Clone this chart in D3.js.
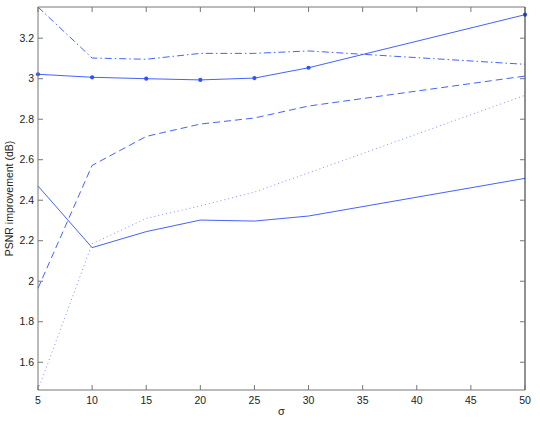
<!DOCTYPE html>
<html><head><meta charset="utf-8">
<script src="https://cdn.jsdelivr.net/npm/d3@7"></script>
<style>body{margin:0;background:#fff}svg{display:block}text{font-family:"Liberation Sans",Arial,sans-serif}</style>
</head><body><svg id="c" width="540" height="423"></svg>
<script>
const sigma = [5, 10, 15, 20, 25, 30, 50];
const solidMarked = [3.022, 3.007, 3.000, 2.994, 3.003, 3.054, 3.316];
const dashDot = [3.354, 3.102, 3.096, 3.125, 3.125, 3.137, 3.071];
const dashed = [1.965, 2.572, 2.715, 2.776, 2.806, 2.865, 3.013];
const dotted = [1.463, 2.185, 2.31, 2.372, 2.44, 2.535, 2.918];
const solidLower = [2.470, 2.166, 2.245, 2.302, 2.297, 2.322, 2.508];
const xTicks = [5, 10, 15, 20, 25, 30, 35, 40, 45, 50];
const yTicks = [1.6, 1.8, 2, 2.2, 2.4, 2.6, 2.8, 3, 3.2];

const L = 38, R = 525, T = 7, B = 390;
const svg = d3.select("#c");
const x = d3.scaleLinear().domain([5, 50]).range([L, R]);
const y = d3.scaleLinear().domain([1.463, 3.354]).range([B, T]);
const col = "#3050ff";

const series = [
  {v: solidMarked, dash: null, marks: true},
  {v: dashDot, dash: "7,3,1.5,3"},
  {v: dashed, dash: "7,4"},
  {v: dotted, dash: "1,3", op: 0.7},
  {v: solidLower, dash: null}
];
const line = d3.line().x((d, i) => x(sigma[i])).y(d => y(d));
const g = svg.append("g");
series.forEach(s => {
  g.append("path").attr("d", line(s.v)).attr("fill", "none")
    .attr("stroke", col).attr("stroke-width", 0.9)
    .attr("stroke-opacity", s.op || 1)
    .attr("stroke-dasharray", s.dash);
  if (s.marks) {
    g.selectAll(null).data(s.v).enter().append("circle")
      .attr("cx", (d, i) => x(sigma[i])).attr("cy", d => y(d)).attr("r", 2.1).attr("fill", col);
  }
});

const tk = 5, axc = "#777";
svg.append("line").attr("x1", L).attr("x2", R).attr("y1", T).attr("y2", T).attr("stroke", axc);
svg.append("line").attr("x1", L).attr("x2", R).attr("y1", B).attr("y2", B).attr("stroke", axc);
svg.append("line").attr("x1", L).attr("x2", L).attr("y1", T).attr("y2", B).attr("stroke", axc);
svg.append("line").attr("x1", R).attr("x2", R).attr("y1", T).attr("y2", B).attr("stroke", "#222");

xTicks.forEach(t => {
  svg.append("line").attr("x1", x(t)).attr("x2", x(t)).attr("y1", B).attr("y2", B - tk).attr("stroke", axc);
  svg.append("line").attr("x1", x(t)).attr("x2", x(t)).attr("y1", T).attr("y2", T + tk).attr("stroke", axc);
  svg.append("text").attr("x", x(t)).attr("y", B + 14).attr("text-anchor", "middle")
    .attr("font-size", 10.5).attr("fill", "#222").text(t);
});
yTicks.forEach(t => {
  svg.append("line").attr("x1", L).attr("x2", L + tk).attr("y1", y(t)).attr("y2", y(t)).attr("stroke", axc);
  svg.append("line").attr("x1", R).attr("x2", R - tk).attr("y1", y(t)).attr("y2", y(t)).attr("stroke", axc);
  svg.append("text").attr("x", L - 4).attr("y", y(t) + 3.5).attr("text-anchor", "end")
    .attr("font-size", 10.5).attr("fill", "#222").text(d3.format("~g")(t));
});
svg.append("text").attr("x", (L + R) / 2).attr("y", 415).attr("text-anchor", "middle")
  .attr("font-size", 11).attr("fill", "#222").text("σ");
svg.append("text").attr("transform", `translate(13,${(T + B) / 2}) rotate(-90)`).attr("text-anchor", "middle")
  .attr("font-size", 10.5).attr("fill", "#222").text("PSNR improvement (dB)");
</script></body></html>
